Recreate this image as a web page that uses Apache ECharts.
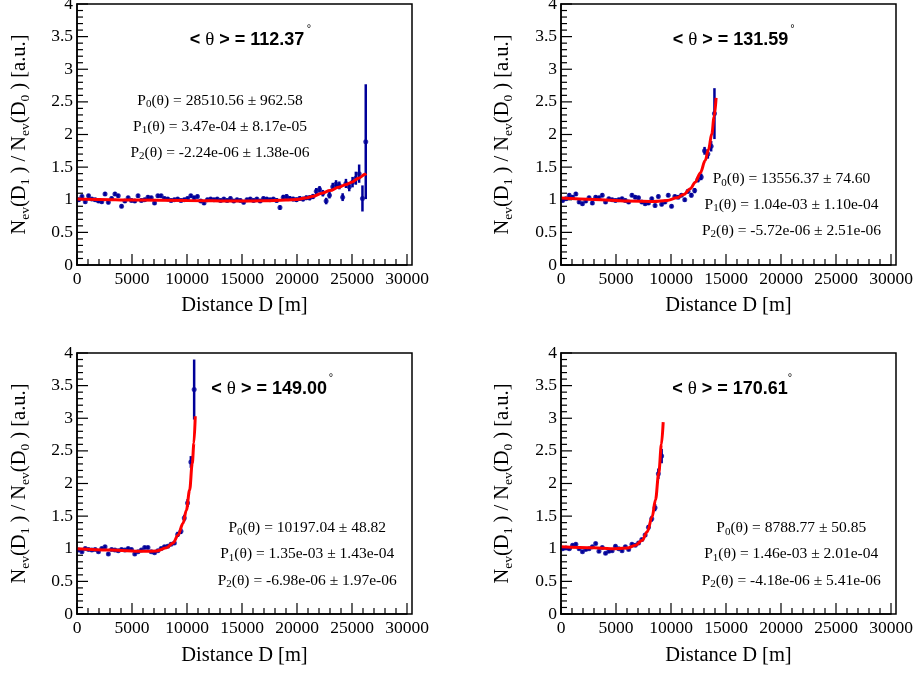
<!DOCTYPE html>
<html><head><meta charset="utf-8">
<script src="https://cdn.jsdelivr.net/npm/echarts@6/dist/echarts.min.js"></script>
<style>html,body{margin:0;padding:0;background:#fff}#c{width:915px;height:675px}</style>
</head><body><div id="c"></div>
<script>
// ---------------- data ----------------
const binCentres = [150,450,750,1050,1350,1650,1950,2250,2550,2850,
  3150,3450,3750,4050,4350,4650,4950,5250,5550,5850,
  6150,6450,6750,7050,7350,7650,7950,8250,8550,8850,
  9150,9450,9750,10050,10350,10650,10950,11250,11550,11850,
  12150,12450,12750,13050,13350,13650,13950,14250,14550,14850,
  15150,15450,15750,16050,16350,16650,16950,17250,17550,17850,
  18150,18450,18750,19050,19350,19650,19950,20250,20550,20850,
  21150,21450,21750,22050,22350,22650,22950,23250,23550,23850,
  24150,24450,24750,25050,25350,25650,25950,26250];

const ratio1 = [1.00,1.05,0.97,1.06,1.01,1.00,0.98,0.97,1.09,0.96,
  1.02,1.09,1.06,0.90,0.98,1.03,0.99,0.98,1.06,0.99,
  1.00,1.04,1.03,0.95,1.06,1.06,1.02,1.01,0.99,1.00,
  1.01,0.99,1.00,1.02,1.06,1.03,1.05,0.98,0.95,1.00,
  1.01,1.00,1.01,0.99,1.01,0.99,1.02,0.98,1.00,0.99,
  0.96,1.00,1.01,0.99,1.01,0.98,1.02,1.01,1.00,1.01,
  0.99,0.88,1.04,1.05,1.02,1.01,1.00,1.02,1.01,1.03,
  1.03,1.05,1.13,1.16,1.10,0.98,1.07,1.20,1.24,1.22,
  1.04,1.25,1.20,1.27,1.33,1.40,1.02,1.89];
const err1 = [0.03,0.03,0.03,0.03,0.03,0.03,0.03,0.03,0.03,0.03,
  0.03,0.03,0.03,0.03,0.03,0.03,0.03,0.03,0.03,0.03,
  0.03,0.03,0.03,0.03,0.03,0.03,0.03,0.03,0.03,0.03,
  0.03,0.03,0.03,0.03,0.03,0.03,0.03,0.03,0.03,0.03,
  0.03,0.03,0.03,0.03,0.03,0.03,0.03,0.03,0.03,0.03,
  0.03,0.03,0.03,0.03,0.03,0.03,0.03,0.03,0.03,0.03,
  0.035,0.035,0.035,0.035,0.035,0.035,0.035,0.035,0.035,0.035,
  0.04,0.04,0.05,0.05,0.05,0.05,0.05,0.06,0.06,0.06,
  0.06,0.07,0.07,0.08,0.10,0.14,0.20,0.88];

const ratio2 = [0.99,1.015,1.07,1.04,1.09,0.965,0.94,0.98,1.03,0.95,
  1.04,1.03,1.07,0.965,1.015,1.00,0.99,1.00,1.015,0.99,
  0.965,1.07,1.04,1.03,0.965,0.94,0.95,1.015,0.91,1.05,
  0.93,0.965,1.07,0.90,1.05,1.04,1.07,1.00,1.13,1.07,
  1.14,1.31,1.35,1.75,1.70,1.82,2.32];
const err2 = [0.03,0.03,0.03,0.03,0.03,0.03,0.03,0.03,0.03,0.03,
  0.03,0.03,0.03,0.03,0.03,0.03,0.03,0.03,0.03,0.03,
  0.03,0.03,0.03,0.03,0.03,0.03,0.03,0.03,0.03,0.03,
  0.03,0.03,0.03,0.03,0.03,0.03,0.03,0.03,0.035,0.035,
  0.04,0.045,0.05,0.06,0.07,0.08,0.39];

const ratio3 = [0.98,0.955,1.005,0.99,0.98,0.99,0.955,1.005,1.03,0.92,
  0.99,0.98,0.97,0.99,0.98,1.005,0.99,0.92,0.955,0.98,
  1.02,1.02,0.955,0.94,0.97,1.005,1.03,1.04,1.07,1.09,
  1.22,1.27,1.47,1.70,2.33,3.44];
const err3 = [0.025,0.025,0.025,0.025,0.025,0.025,0.025,0.025,0.025,0.025,
  0.025,0.025,0.025,0.025,0.025,0.025,0.025,0.025,0.025,0.025,
  0.025,0.025,0.025,0.025,0.025,0.025,0.025,0.025,0.025,0.03,
  0.04,0.045,0.05,0.06,0.09,0.46];

const ratio4 = [1.00,1.01,1.00,1.055,1.07,1.00,0.955,0.99,1.00,1.03,
  1.08,0.96,1.02,0.93,0.96,0.97,1.04,1.00,0.97,1.03,
  0.99,1.07,1.055,1.09,1.14,1.21,1.33,1.46,1.63,2.15,
  2.42];
const err4 = [0.025,0.025,0.025,0.025,0.025,0.025,0.025,0.025,0.025,0.025,
  0.025,0.025,0.025,0.025,0.025,0.025,0.025,0.025,0.025,0.025,
  0.025,0.025,0.025,0.025,0.025,0.03,0.035,0.045,0.055,0.08,
  0.11];

// fit curves
const fitD1 = [0,2000,5000,10000,14700,17000,19000,20000,20770,21500,22270,23000,23780,24400,24980,25600,26190,26300];
const fitV1 = [1.01,1.005,0.995,0.99,0.98,0.985,0.995,1.005,1.025,1.055,1.10,1.14,1.19,1.23,1.27,1.33,1.39,1.40];
const fitD2 = [0,3000,6000,8430,9640,10550,11150,11760,12210,12660,13110,13410,13710,13920,14100];
const fitV2 = [1.025,1.005,0.98,0.975,0.99,1.03,1.08,1.17,1.27,1.41,1.60,1.77,2.01,2.27,2.56];
const fitD3 = [0,3015,6030,7240,8140,8740,9190,9640,9940,10240,10480,10630,10750];
const fitV3 = [1.0,0.98,0.96,0.965,1.015,1.09,1.21,1.39,1.59,1.90,2.31,2.62,3.03];
const fitD4 = [0,3014,4520,6030,6780,7385,7840,8290,8590,8890,9130,9290];
const fitV4 = [1.03,1.015,1.0,1.01,1.055,1.13,1.26,1.49,1.75,2.16,2.60,2.94];

const thetaMean = ['112.37','131.59','149.00','170.61'];
const fitParams = [
  ['28510.56 ± 962.58','3.47e-04 ± 8.17e-05','-2.24e-06 ± 1.38e-06'],
  ['13556.37 ± 74.60','1.04e-03 ± 1.10e-04','-5.72e-06 ± 2.51e-06'],
  ['10197.04 ± 48.82','1.35e-03 ± 1.43e-04','-6.98e-06 ± 1.97e-06'],
  ['8788.77 ± 50.85','1.46e-03 ± 2.01e-04','-4.18e-06 ± 5.41e-06']
];
const xAxisRange = [0, 30000, 5000];   // min, max, major interval
const yAxisRange = [0, 4, 0.5];
const minorPerMajor = 5;
const xTitle = 'Distance D [m]';

// ---------------- layout ----------------
const SERIF = 'Liberation Serif, Times New Roman, serif';
const SANS = 'Liberation Sans, Arial, sans-serif';
const BLUE = '#000099';
const layout = [
  {left:77, top:4, titleX:247, titleY:40.5, degX:309, degY:29, parX:220, parY:[101,127,152.5], yTitleX:20, xTitleY:306},
  {left:561, top:4, titleX:730.5, titleY:40.5, degX:792.5, degY:29, parX:791.5, parY:[179.2,205,231], yTitleX:503, xTitleY:306},
  {left:77, top:353, titleX:269.2, titleY:389.5, degX:331, degY:378, parX:307.2, parY:[528.2,554.2,580.6], yTitleX:20, xTitleY:656},
  {left:561, top:353, titleX:730, titleY:389.5, degX:790, degY:378, parX:791.2, parY:[528.2,554.2,580.6], yTitleX:503, xTitleY:656}
];
const GW = 330, GH = 261, FW = 335;
const MAJOR_LEN = 11, MINOR_LEN = 6;

const ratios = [ratio1, ratio2, ratio3, ratio4];
const errs = [err1, err2, err3, err4];
const fits = [[fitD1,fitV1],[fitD2,fitV2],[fitD3,fitV3],[fitD4,fitV4]];

// tick positions along each axis (value, isMajor)
function tickList(range) {
  const out = [];
  const step = range[2] / minorPerMajor;
  const nSteps = Math.round((range[1] - range[0]) / step);
  for (let i = 0; i <= nSteps; i++) {
    out.push([+(range[0] + i * step).toFixed(6), i % minorPerMajor === 0 ? 1 : 0]);
  }
  return out;
}
const xTickList = tickList(xAxisRange);
const yTickList = tickList(yAxisRange);

const grids = [], xAxes = [], yAxes = [], series = [], graphics = [];

const yRich = {
  n: {fontFamily: SERIF, fontSize: 20.5, lineHeight: 24, fill: '#000'},
  s: {fontFamily: SERIF, fontSize: 13.5, lineHeight: 6, verticalAlign: 'bottom', fill: '#000'}
};
const pRich = {
  n: {fontFamily: SERIF, fontSize: 15.5, lineHeight: 18, fill: '#000'},
  s: {fontFamily: SERIF, fontSize: 11, lineHeight: 6, verticalAlign: 'bottom', fill: '#000'}
};
const tRich = {
  b: {fontFamily: SANS, fontSize: 18, fontWeight: 'bold', fill: '#000', lineHeight: 22},
  t: {fontFamily: SERIF, fontSize: 19, fill: '#000', lineHeight: 22}
};

function mainAxis(k, range, margin) {
  return {
    type: 'value', gridIndex: k, min: range[0], max: range[1], interval: range[2],
    axisLine: {show: true, lineStyle: {color: '#000', width: 1.5}},
    axisTick: {show: false}, minorTick: {show: false},
    splitLine: {show: false}, minorSplitLine: {show: false},
    axisLabel: {color: '#000', fontFamily: SERIF, fontSize: 17.5, margin: margin, formatter: v => String(v)}
  };
}

layout.forEach((L, k) => {
  grids.push({left: L.left, top: L.top, width: GW, height: GH, show: false, outerBoundsMode: 'none'});
  xAxes.push(mainAxis(k, xAxisRange, 5));
  yAxes.push(mainAxis(k, yAxisRange, 4));
  const vals = ratios[k], er = errs[k];
  const n = vals.length;
  const pts = [], bars = [];
  for (let i = 0; i < n; i++) {
    pts.push([binCentres[i], vals[i]]);
    bars.push([binCentres[i], vals[i] - er[i], vals[i] + er[i]]);
  }
  // inward tick marks (ROOT style), placed through the axes' own scales
  series.push({
    type: 'custom', xAxisIndex: k, yAxisIndex: k, clip: false, silent: true, z: 1,
    data: xTickList.map(t => [t[0], yAxisRange[0], t[1]]), encode: {x: 0, y: 1},
    renderItem: (params, api) => {
      const p = api.coord([api.value(0), api.value(1)]);
      const len = api.value(2) ? MAJOR_LEN : MINOR_LEN;
      return {type: 'line', shape: {x1: p[0], y1: p[1], x2: p[0], y2: p[1] - len},
        style: {stroke: '#000', lineWidth: 1.2}};
    }
  });
  series.push({
    type: 'custom', xAxisIndex: k, yAxisIndex: k, clip: false, silent: true, z: 1,
    data: yTickList.map(t => [xAxisRange[0], t[0], t[1]]), encode: {x: 0, y: 1},
    renderItem: (params, api) => {
      const p = api.coord([api.value(0), api.value(1)]);
      const len = api.value(2) ? MAJOR_LEN : MINOR_LEN;
      return {type: 'line', shape: {x1: p[0], y1: p[1], x2: p[0] + len, y2: p[1]},
        style: {stroke: '#000', lineWidth: 1.2}};
    }
  });
  series.push({
    type: 'custom', xAxisIndex: k, yAxisIndex: k, data: bars, clip: true, z: 2,
    encode: {x: 0, y: [1, 2]},
    renderItem: (params, api) => {
      const x = api.value(0);
      const lo = api.coord([x, api.value(1)]);
      const hi = api.coord([x, api.value(2)]);
      return {type: 'line', shape: {x1: lo[0], y1: lo[1], x2: hi[0], y2: hi[1]},
        style: {stroke: BLUE, lineWidth: 2.5}};
    }
  });
  series.push({
    type: 'scatter', xAxisIndex: k, yAxisIndex: k, data: pts, symbol: 'circle', symbolSize: 5,
    itemStyle: {color: BLUE}, z: 3, silent: true
  });
  const fd = fits[k][0], fv = fits[k][1];
  series.push({
    type: 'line', xAxisIndex: k, yAxisIndex: k, data: fd.map((d, i) => [d, fv[i]]),
    showSymbol: false, smooth: 0.35, smoothMonotone: 'x', z: 5, silent: true,
    lineStyle: {color: '#ff0000', width: 3}
  });

  graphics.push({type: 'rect', shape: {x: L.left, y: L.top, width: FW, height: GH},
    style: {fill: 'none', stroke: '#000', lineWidth: 1.5}, z: 100, silent: true});
  graphics.push({type: 'text', x: L.titleX, y: L.titleY, z: 100, silent: true,
    style: {text: '{b|< }{t|θ}{b| > = ' + thetaMean[k] + '}', rich: tRich, align: 'center', verticalAlign: 'middle'}});
  graphics.push({type: 'text', x: L.degX, y: L.degY, z: 100, silent: true,
    style: {text: '°', font: '11px ' + SANS, fill: '#000', align: 'center', verticalAlign: 'middle'}});
  fitParams[k].forEach((p, j) => {
    graphics.push({type: 'text', x: L.parX, y: L.parY[j], z: 100, silent: true,
      style: {text: '{n|P}{s|' + j + '}{n|(θ) = ' + p + '}', rich: pRich, align: 'center', verticalAlign: 'middle'}});
  });
  graphics.push({type: 'text', x: L.left + FW / 2, y: L.xTitleY, z: 100, silent: true,
    style: {text: xTitle, font: '20.5px ' + SERIF, fill: '#000', align: 'center', verticalAlign: 'middle'}});
  graphics.push({type: 'text', x: L.yTitleX, y: L.top + GH / 2, rotation: Math.PI / 2, z: 100, silent: true,
    style: {text: '{n|N}{s|ev}{n|(D}{s|1}{n| ) / N}{s|ev}{n|(D}{s|0}{n| ) [a.u.]}', rich: yRich, align: 'center', verticalAlign: 'middle'}});
});

const chart = echarts.init(document.getElementById('c'), null, {renderer: 'canvas'});
chart.setOption({
  animation: false,
  backgroundColor: '#fff',
  grid: grids, xAxis: xAxes, yAxis: yAxes, series: series, graphic: graphics
});
</script></body></html>
